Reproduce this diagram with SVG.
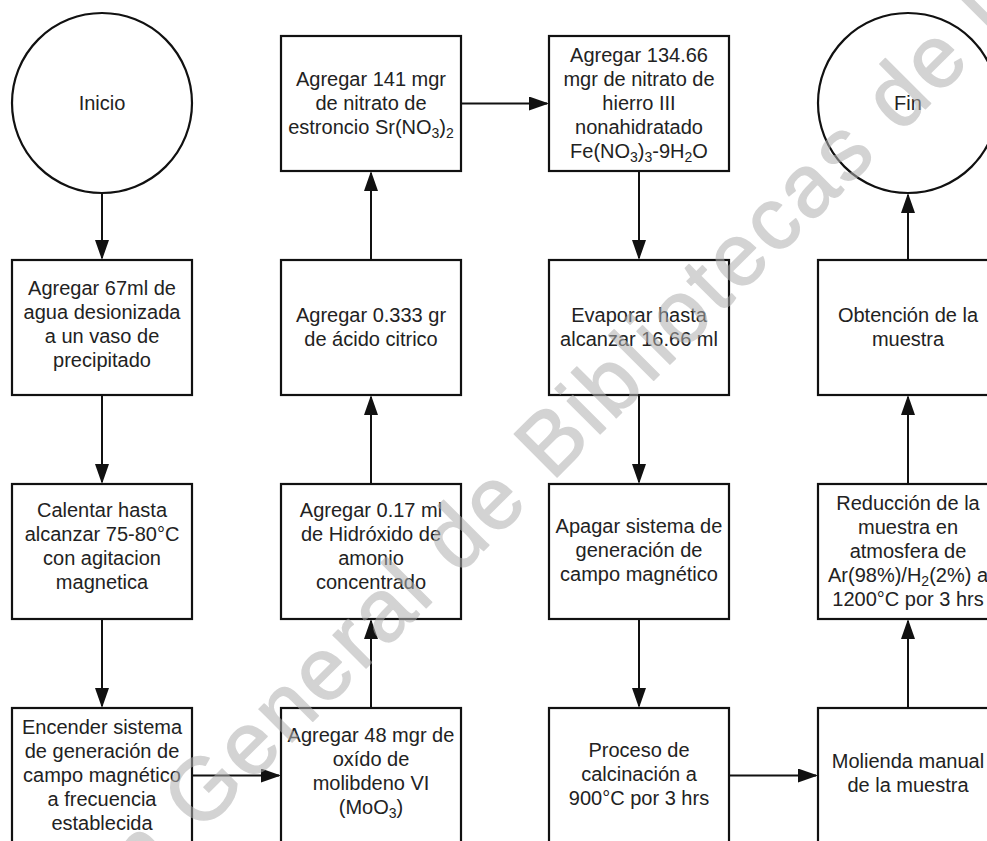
<svg xmlns="http://www.w3.org/2000/svg" width="987" height="841" viewBox="0 0 987 841">
<style>
.bg{fill:#fff}
.box{fill:#fff;stroke:#111;stroke-width:2.2}
.lbl{font-family:"Liberation Sans",Arial,sans-serif;font-size:20px;fill:#222;text-anchor:middle}
.sub{font-size:14px}
.conn{stroke:#111;stroke-width:2;fill:none;marker-end:url(#arr)}
.wm{font-family:"Liberation Sans",Arial,sans-serif;font-size:88px;letter-spacing:3.5px;fill:#b0b0b0;stroke:#b0b0b0;stroke-width:1.5;stroke-linejoin:round;opacity:0.55}
</style>
<defs>
<marker id="arr" markerUnits="userSpaceOnUse" markerWidth="20" markerHeight="14" refX="18" refY="7" orient="auto">
<path d="M0,0 L20,7 L0,14 z" fill="#111"/>
</marker>
</defs>
<rect class="bg" x="0" y="0" width="987" height="841"/>

<g id="connectors">
<line class="conn" x1="102" y1="193" x2="102" y2="258"/>
<line class="conn" x1="102" y1="395" x2="102" y2="482"/>
<line class="conn" x1="102" y1="619" x2="102" y2="706"/>
<line class="conn" x1="192" y1="775.5" x2="279" y2="775.5"/>
<line class="conn" x1="371" y1="708" x2="371" y2="621"/>
<line class="conn" x1="371" y1="484" x2="371" y2="397"/>
<line class="conn" x1="371" y1="260" x2="371" y2="173"/>
<line class="conn" x1="461" y1="103.5" x2="547" y2="103.5"/>
<line class="conn" x1="639" y1="171" x2="639" y2="258"/>
<line class="conn" x1="639" y1="395" x2="639" y2="482"/>
<line class="conn" x1="639" y1="619" x2="639" y2="706"/>
<line class="conn" x1="729" y1="775.5" x2="816" y2="775.5"/>
<line class="conn" x1="908" y1="708" x2="908" y2="621"/>
<line class="conn" x1="908" y1="484" x2="908" y2="397"/>
<line class="conn" x1="908" y1="260" x2="908" y2="195"/>
</g>

<g id="inicio">
<circle class="box" cx="102" cy="103" r="90"/>
<text class="lbl" x="102" y="110">Inicio</text>
</g>

<g id="agua">
<rect class="box" x="12" y="260" width="180" height="135"/>
<text class="lbl"><tspan x="102" y="295">Agregar 67ml de</tspan><tspan x="102" y="319">agua desionizada</tspan><tspan x="102" y="343">a un vaso de</tspan><tspan x="102" y="367">precipitado</tspan></text>
</g>

<g id="calentar">
<rect class="box" x="12" y="484" width="180" height="135"/>
<text class="lbl"><tspan x="102" y="517">Calentar hasta</tspan><tspan x="102" y="541">alcanzar 75-80°C</tspan><tspan x="102" y="565">con agitacion</tspan><tspan x="102" y="589">magnetica</tspan></text>
</g>

<g id="encender">
<rect class="box" x="12" y="708" width="180" height="135"/>
<text class="lbl"><tspan x="102" y="734">Encender sistema</tspan><tspan x="102" y="758">de generación de</tspan><tspan x="102" y="782">campo magnético</tspan><tspan x="102" y="806">a frecuencia</tspan><tspan x="102" y="830">establecida</tspan></text>
</g>

<g id="moo3">
<rect class="box" x="281" y="708" width="180" height="135"/>
<text class="lbl"><tspan x="371" y="742">Agregar 48 mgr de</tspan><tspan x="371" y="766">oxído de</tspan><tspan x="371" y="790">molibdeno VI</tspan></text>
<text class="lbl" x="371" y="814">(MoO<tspan class="sub" dy="4">3</tspan><tspan dy="-4">)</tspan></text>
</g>

<g id="hidroxido">
<rect class="box" x="281" y="484" width="180" height="135"/>
<text class="lbl"><tspan x="371" y="517">Agregar 0.17 ml</tspan><tspan x="371" y="541">de Hidróxido de</tspan><tspan x="371" y="565">amonio</tspan><tspan x="371" y="589">concentrado</tspan></text>
</g>

<g id="citrico">
<rect class="box" x="281" y="260" width="180" height="135"/>
<text class="lbl"><tspan x="371" y="322">Agregar 0.333 gr</tspan><tspan x="371" y="346">de ácido citrico</tspan></text>
</g>

<g id="estroncio">
<rect class="box" x="281" y="36" width="180" height="135"/>
<text class="lbl"><tspan x="371" y="86">Agregar 141 mgr</tspan><tspan x="371" y="110">de nitrato de</tspan></text>
<text class="lbl" x="371" y="134">estroncio Sr(NO<tspan class="sub" dy="4">3</tspan><tspan dy="-4">)</tspan><tspan class="sub" dy="4">2</tspan></text>
</g>

<g id="hierro">
<rect class="box" x="549" y="36" width="180" height="135"/>
<text class="lbl"><tspan x="639" y="62">Agregar 134.66</tspan><tspan x="639" y="86">mgr de nitrato de</tspan><tspan x="639" y="110">hierro III</tspan><tspan x="639" y="134">nonahidratado</tspan></text>
<text class="lbl" x="639" y="158">Fe(NO<tspan class="sub" dy="4">3</tspan><tspan dy="-4">)</tspan><tspan class="sub" dy="4">3</tspan><tspan dy="-4">-9H</tspan><tspan class="sub" dy="4">2</tspan><tspan dy="-4">O</tspan></text>
</g>

<g id="evaporar">
<rect class="box" x="549" y="260" width="180" height="135"/>
<text class="lbl"><tspan x="639" y="322">Evaporar hasta</tspan><tspan x="639" y="346">alcanzar 16.66 ml</tspan></text>
</g>

<g id="apagar">
<rect class="box" x="549" y="484" width="180" height="135"/>
<text class="lbl"><tspan x="639" y="533">Apagar sistema de</tspan><tspan x="639" y="557">generación de</tspan><tspan x="639" y="581">campo magnético</tspan></text>
</g>

<g id="calcinacion">
<rect class="box" x="549" y="708" width="180" height="135"/>
<text class="lbl"><tspan x="639" y="757">Proceso de</tspan><tspan x="639" y="781">calcinación a</tspan><tspan x="639" y="805">900°C por 3 hrs</tspan></text>
</g>

<g id="molienda">
<rect class="box" x="818" y="708" width="180" height="135"/>
<text class="lbl"><tspan x="908" y="768">Molienda manual</tspan><tspan x="908" y="792">de la muestra</tspan></text>
</g>

<g id="reduccion">
<rect class="box" x="818" y="484" width="180" height="135"/>
<text class="lbl"><tspan x="908" y="510">Reducción de la</tspan><tspan x="908" y="534">muestra en</tspan><tspan x="908" y="558">atmosfera de</tspan></text>
<text class="lbl" x="908" y="582">Ar(98%)/H<tspan class="sub" dy="4">2</tspan><tspan dy="-4">(2%) a</tspan></text>
<text class="lbl" x="908" y="606">1200°C por 3 hrs</text>
</g>

<g id="obtencion">
<rect class="box" x="818" y="260" width="180" height="135"/>
<text class="lbl"><tspan x="908" y="322">Obtención de la</tspan><tspan x="908" y="346">muestra</tspan></text>
</g>

<g id="fin">
<circle class="box" cx="908" cy="103" r="90"/>
<text class="lbl" x="908" y="110">Fin</text>
</g>

<text class="wm" transform="translate(-101.7,1135.7) rotate(-45)" x="0" y="0">Dirección General de Bibliotecas de la</text>
</svg>
